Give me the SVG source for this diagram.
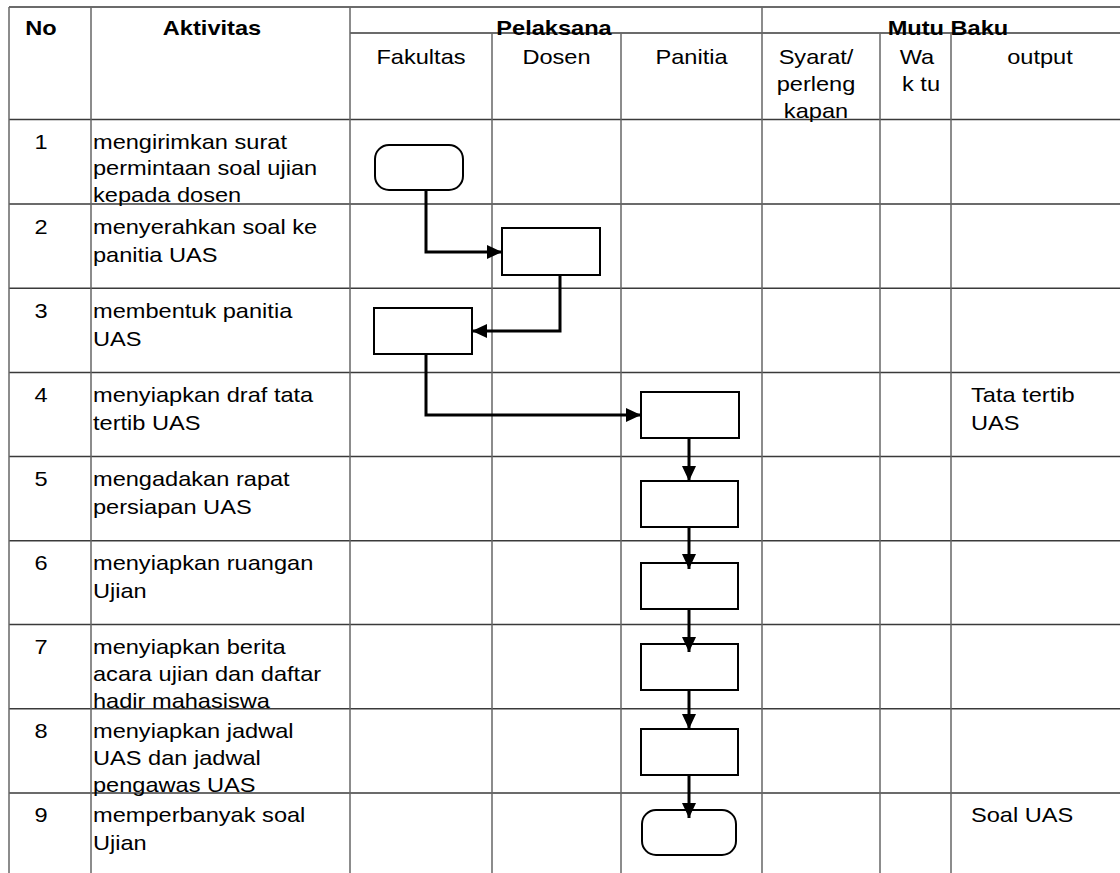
<svg xmlns="http://www.w3.org/2000/svg" width="1120" height="873" viewBox="0 0 1120 873">
<style>
.bg{fill:#ffffff}
.h{stroke:#3a3a3a;stroke-width:1.5;fill:none}
.v{stroke:#666666;stroke-width:1.5;fill:none}
.t{font-family:"Liberation Sans",Arial,sans-serif;font-size:20px;fill:#000}
.b{font-weight:bold}
.m{text-anchor:middle}
.node{fill:#ffffff;stroke:#000;stroke-width:2}
.conn{fill:none;stroke:#000;stroke-width:3}
</style>
<defs>
<marker id="arr" markerUnits="userSpaceOnUse" markerWidth="16" markerHeight="15" refX="15" refY="7" orient="auto">
<path d="M0,0 L15,7 L0,14 Z" fill="#000"/>
</marker>
</defs>
<rect class="bg" x="0" y="0" width="1120" height="873"/>
<g id="grid">
<line class="h" x1="9" y1="7" x2="1120" y2="7"/>
<line class="h" x1="350" y1="33" x2="1120" y2="33"/>
<line class="h" x1="9" y1="119.5" x2="1120" y2="119.5"/>
<line class="h" x1="9" y1="204" x2="1120" y2="204"/>
<line class="h" x1="9" y1="288.2" x2="1120" y2="288.2"/>
<line class="h" x1="9" y1="372.5" x2="1120" y2="372.5"/>
<line class="h" x1="9" y1="456.6" x2="1120" y2="456.6"/>
<line class="h" x1="9" y1="540.7" x2="1120" y2="540.7"/>
<line class="h" x1="9" y1="624.6" x2="1120" y2="624.6"/>
<line class="h" x1="9" y1="708.8" x2="1120" y2="708.8"/>
<line class="h" x1="9" y1="793" x2="1120" y2="793"/>
<line class="v" x1="9" y1="7" x2="9" y2="873"/>
<line class="v" x1="91" y1="7" x2="91" y2="873"/>
<line class="v" x1="350" y1="7" x2="350" y2="873"/>
<line class="v" x1="492" y1="33" x2="492" y2="873"/>
<line class="v" x1="621" y1="33" x2="621" y2="873"/>
<line class="v" x1="762" y1="7" x2="762" y2="873"/>
<line class="v" x1="880" y1="33" x2="880" y2="873"/>
<line class="v" x1="951" y1="33" x2="951" y2="873"/>
</g>
<g id="labels" transform="scale(1.18,1)">
<text class="t b m" x="34.75" y="35">No</text>
<text class="t b m" x="179.66" y="35">Aktivitas</text>
<text class="t b m" x="469.49" y="35">Pelaksana</text>
<text class="t b m" x="803.39" y="35">Mutu Baku</text>
<text class="t m" x="356.78" y="64">Fakultas</text>
<text class="t m" x="471.61" y="64">Dosen</text>
<text class="t m" x="586.02" y="64">Panitia</text>
<text class="t m" x="691.53" y="64">Syarat/</text>
<text class="t m" x="691.53" y="91">perleng</text>
<text class="t m" x="691.53" y="118">kapan</text>
<text class="t m" x="777.12" y="64">Wa</text>
<text class="t m" x="780.51" y="91">k tu</text>
<text class="t m" x="881.36" y="64">output</text>
<text class="t m" x="34.75" y="149">1</text>
<text class="t" x="78.81" y="149">mengirimkan surat</text>
<text class="t" x="78.81" y="175.5">permintaan soal ujian</text>
<text class="t" x="78.81" y="202">kepada dosen</text>
<text class="t m" x="34.75" y="234">2</text>
<text class="t" x="78.81" y="234">menyerahkan soal ke</text>
<text class="t" x="78.81" y="262">panitia UAS</text>
<text class="t m" x="34.75" y="318">3</text>
<text class="t" x="78.81" y="318">membentuk panitia</text>
<text class="t" x="78.81" y="346">UAS</text>
<text class="t m" x="34.75" y="402">4</text>
<text class="t" x="78.81" y="402">menyiapkan draf tata</text>
<text class="t" x="78.81" y="430">tertib UAS</text>
<text class="t m" x="34.75" y="486">5</text>
<text class="t" x="78.81" y="486">mengadakan rapat</text>
<text class="t" x="78.81" y="514">persiapan UAS</text>
<text class="t m" x="34.75" y="570">6</text>
<text class="t" x="78.81" y="570">menyiapkan ruangan</text>
<text class="t" x="78.81" y="598">Ujian</text>
<text class="t m" x="34.75" y="654">7</text>
<text class="t" x="78.81" y="654">menyiapkan berita</text>
<text class="t" x="78.81" y="681">acara ujian dan daftar</text>
<text class="t" x="78.81" y="708">hadir mahasiswa</text>
<text class="t m" x="34.75" y="738">8</text>
<text class="t" x="78.81" y="738">menyiapkan jadwal</text>
<text class="t" x="78.81" y="765">UAS dan jadwal</text>
<text class="t" x="78.81" y="792">pengawas UAS</text>
<text class="t m" x="34.75" y="822">9</text>
<text class="t" x="78.81" y="822">memperbanyak soal</text>
<text class="t" x="78.81" y="850">Ujian</text>
<text class="t" x="822.88" y="402">Tata tertib</text>
<text class="t" x="822.88" y="430">UAS</text>
<text class="t" x="822.88" y="822">Soal UAS</text>
</g>
<g id="node1"><rect class="node" x="375" y="145" width="88" height="45" rx="14"/></g>
<g id="node2"><rect class="node" x="502" y="228" width="98" height="47"/></g>
<g id="node3"><rect class="node" x="374" y="308" width="98" height="46"/></g>
<g id="node4"><rect class="node" x="641" y="392" width="98" height="46"/></g>
<g id="node5"><rect class="node" x="641" y="481" width="97" height="46"/></g>
<g id="node6"><rect class="node" x="641" y="563" width="97" height="46"/></g>
<g id="node7"><rect class="node" x="641" y="644" width="97" height="46"/></g>
<g id="node8"><rect class="node" x="641" y="729" width="97" height="46"/></g>
<g id="node9"><rect class="node" x="642" y="810" width="94" height="45" rx="14"/></g>
<g id="connectors">
<path class="conn" d="M426,190 V252 H502" marker-end="url(#arr)"/>
<path class="conn" d="M560,275 V331 H472" marker-end="url(#arr)"/>
<path class="conn" d="M426,354 V415 H641" marker-end="url(#arr)"/>
<path class="conn" d="M689,438 V481" marker-end="url(#arr)"/>
<path class="conn" d="M689,527 V569" marker-end="url(#arr)"/>
<path class="conn" d="M689,609 V652" marker-end="url(#arr)"/>
<path class="conn" d="M689,690 V729" marker-end="url(#arr)"/>
<path class="conn" d="M689,775 V818" marker-end="url(#arr)"/>
</g>
</svg>
